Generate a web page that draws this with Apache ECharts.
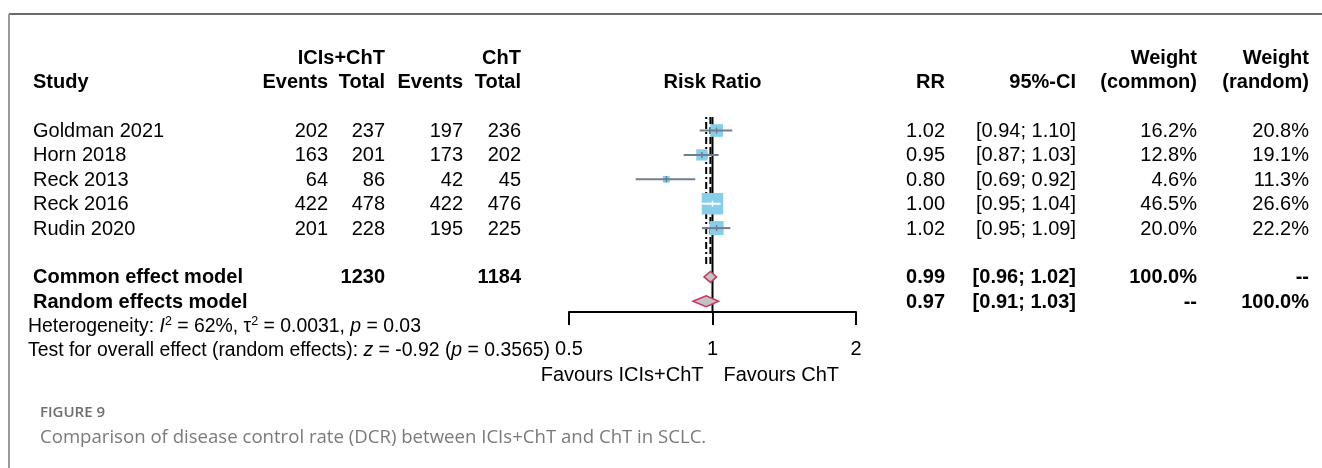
<!DOCTYPE html>
<html>
<head>
<meta charset="utf-8">
<script src="https://cdn.jsdelivr.net/npm/echarts@6/dist/echarts.min.js"></script>
<style>
html,body{margin:0;padding:0;background:#fff;}
#chart{width:1322px;height:468px;}
</style>
</head>
<body>
<div id="chart"></div>
<script>
// ---------------- data ----------------
const studies = ['Goldman 2021', 'Horn 2018', 'Reck 2013', 'Reck 2016', 'Rudin 2020'];
const eventsExp = [202, 163, 64, 422, 201];
const totalExp = [237, 201, 86, 478, 228];
const eventsCtl = [197, 173, 42, 422, 195];
const totalCtl = [236, 202, 45, 476, 225];
const rr = [1.02, 0.95, 0.80, 1.00, 1.02];
const ciLow = [0.94, 0.87, 0.69, 0.95, 0.95];
const ciHigh = [1.10, 1.03, 0.92, 1.04, 1.09];
const weightCommon = [16.2, 12.8, 4.6, 46.5, 20.0];
const weightRandom = [20.8, 19.1, 11.3, 26.6, 22.2];

const pooledLabels = ['Common effect model', 'Random effects model'];
const pooledTotalExp = [1230, null];
const pooledTotalCtl = [1184, null];
const pooledRR = [0.99, 0.97];
const pooledLow = [0.96, 0.91];
const pooledHigh = [1.02, 1.03];
const pooledWCommon = [100.0, null];
const pooledWRandom = [null, 100.0];
const nullEffect = 1;

const xTicks = [0.5, 1, 2];
const heterogeneity = { I2: '62%', tau2: '0.0031', p: '0.03' };
const overallTest = { z: '-0.92', p: '0.3565' };
const labelLeft = 'Favours ICIs+ChT';
const labelRight = 'Favours ChT';
const caption1 = 'FIGURE 9';
const caption2 = 'Comparison of disease control rate (DCR) between ICIs+ChT and ChT in SCLC.';

// ---------------- layout ----------------
const FONT = '"Liberation Sans", Arial, sans-serif';
const FS = 20;
const FS_FOOT = 19.4;
const TEXT_DY = 1;
const ROW_Y0 = 130.5, ROW_H = 24.4;
const rowPx = r => ROW_Y0 + ROW_H * r;
const Y_MIN = -3.5, Y_MAX = 9.5;
const AXIS_ROW = 7.44;
const PLOT_LEFT = 569, PLOT_RIGHT = 856;
const COL = { study: 33, expEv: 328, expTot: 385, ctlEv: 463, ctlTot: 521, rr: 945, ci: 1076, wc: 1197, wr: 1309, foot: 28 };
const SQ_K = 3.15;
const pooledRowStart = studies.length + 1;

const chart = echarts.init(document.getElementById('chart'), null, { renderer: 'canvas' });

function txt(x, y, text, align, bold) {
  return {
    type: 'text',
    style: {
      x: x, y: y + TEXT_DY, text: text,
      fill: '#000',
      fontFamily: FONT, fontSize: FS, fontWeight: bold ? 'bold' : 'normal',
      align: align, verticalAlign: 'middle'
    }
  };
}
const fmtW = v => v == null ? '--' : v.toFixed(1) + '%';
const fmtCI = (a, b) => '[' + a.toFixed(2) + '; ' + b.toFixed(2) + ']';

const option = {
  backgroundColor: '#fff',
  animation: false,
  grid: [
    { left: PLOT_LEFT, width: PLOT_RIGHT - PLOT_LEFT, top: rowPx(Y_MIN), height: ROW_H * (Y_MAX - Y_MIN) },
    { left: PLOT_LEFT, width: PLOT_RIGHT - PLOT_LEFT, top: rowPx(AXIS_ROW) - 12, height: 12 }
  ],
  xAxis: [
    { gridIndex: 0, type: 'log', logBase: 2, min: xTicks[0], max: xTicks[xTicks.length - 1], show: false },
    {
      gridIndex: 1, type: 'log', logBase: 2, min: xTicks[0], max: xTicks[xTicks.length - 1],
      position: 'bottom',
      axisLine: { show: true, lineStyle: { color: '#000', width: 2 } },
      axisTick: { show: true, length: 13, lineStyle: { color: '#000', width: 2 } },
      minorTick: { show: false },
      splitLine: { show: false },
      axisLabel: { show: true, color: '#000', fontFamily: FONT, fontSize: FS, margin: 27,
        formatter: v => String(Math.round(v * 100) / 100) }
    }
  ],
  yAxis: [
    { gridIndex: 0, type: 'value', min: Y_MIN, max: Y_MAX, inverse: true, show: false },
    { gridIndex: 1, type: 'value', min: 0, max: 1, show: false }
  ],
  graphic: [
    { type: 'line', shape: { x1: 9, y1: 14, x2: 1322, y2: 14 }, style: { stroke: '#3a3a3a', lineWidth: 1.5 } },
    { type: 'line', shape: { x1: 9, y1: 14, x2: 9, y2: 468 }, style: { stroke: '#9a9a9a', lineWidth: 2 } },
    { type: 'text', style: { x: 40, y: 413, text: caption1, fill: '#6e6e6e', fontFamily: '"Open Sans", sans-serif', fontSize: 15, fontWeight: 600, verticalAlign: 'middle' } },
    { type: 'text', style: { x: 40, y: 438, text: caption2, fill: '#7a7a7a', fontFamily: '"Open Sans", sans-serif', fontSize: 18.6, verticalAlign: 'middle' } }
  ],
  series: [
    // reference lines: null effect (solid) and pooled estimates (dashed / dash-dot)
    {
      type: 'custom', xAxisIndex: 0, yAxisIndex: 0, silent: true,
      data: [[nullEffect, 0], [pooledRR[0], 1], [pooledRR[1], 2]],
      renderItem: function (params, api) {
        const x = api.value(0), kind = api.value(1);
        const top = api.coord([x, -0.55]);
        const bottomRow = kind === 0 ? AXIS_ROW : studies.length + 0.5;
        const bot = api.coord([x, bottomRow]);
        const dash = kind === 0 ? null : (kind === 1 ? [7, 3] : [2, 3, 7, 3]);
        return {
          type: 'line',
          shape: { x1: top[0], y1: top[1], x2: bot[0], y2: bot[1] },
          style: { stroke: '#000', lineWidth: 2, lineDash: dash }
        };
      }
    },
    // study squares and CIs
    {
      type: 'custom', xAxisIndex: 0, yAxisIndex: 0, silent: true,
      data: studies.map((s, i) => [rr[i], i, ciLow[i], ciHigh[i], weightCommon[i]]),
      renderItem: function (params, api) {
        const r = api.value(1);
        const c = api.coord([api.value(0), r]);
        const lo = api.coord([api.value(2), r]);
        const hi = api.coord([api.value(3), r]);
        const s = SQ_K * Math.sqrt(api.value(4));
        const inside = lo[0] >= c[0] - s / 2 - 0.5 && hi[0] <= c[0] + s / 2 + 0.5;
        const lc = inside ? '#ffffff' : '#6f7f8f';
        return {
          type: 'group',
          children: [
            { type: 'rect', shape: { x: c[0] - s / 2, y: c[1] - s / 2, width: s, height: s }, style: { fill: '#87CEEB' } },
            { type: 'line', shape: { x1: lo[0], y1: c[1], x2: hi[0], y2: c[1] }, style: { stroke: lc, lineWidth: 2 } },
            { type: 'line', shape: { x1: c[0], y1: c[1] - 3, x2: c[0], y2: c[1] + 3 }, style: { stroke: lc, lineWidth: 1.5 } }
          ]
        };
      }
    },
    // pooled diamonds
    {
      type: 'custom', xAxisIndex: 0, yAxisIndex: 0, silent: true,
      data: pooledRR.map((v, i) => [v, pooledRowStart + i, pooledLow[i], pooledHigh[i]]),
      renderItem: function (params, api) {
        const r = api.value(1);
        const c = api.coord([api.value(0), r]);
        const lo = api.coord([api.value(2), r]);
        const hi = api.coord([api.value(3), r]);
        const h = 5.5;
        return {
          type: 'polygon',
          shape: { points: [[lo[0], c[1]], [c[0], c[1] - h], [hi[0], c[1]], [c[0], c[1] + h]] },
          style: { fill: '#C3C3C3', stroke: '#C7375F', lineWidth: 1.5 }
        };
      }
    },
    // table text
    {
      type: 'custom', xAxisIndex: 0, yAxisIndex: 0, silent: true,
      data: [[nullEffect, 0]],
      renderItem: function (params, api) {
        const y = r => api.coord([nullEffect, r])[1];
        const xc = api.coord([nullEffect, 0])[0];
        const ch = [];
        // header
        ch.push(txt(COL.expTot, y(-3), 'ICIs+ChT', 'right', true));
        ch.push(txt(COL.ctlTot, y(-3), 'ChT', 'right', true));
        ch.push(txt(COL.wc, y(-3), 'Weight', 'right', true));
        ch.push(txt(COL.wr, y(-3), 'Weight', 'right', true));
        ch.push(txt(COL.study, y(-2), 'Study', 'left', true));
        ch.push(txt(COL.expEv, y(-2), 'Events', 'right', true));
        ch.push(txt(COL.expTot, y(-2), 'Total', 'right', true));
        ch.push(txt(COL.ctlEv, y(-2), 'Events', 'right', true));
        ch.push(txt(COL.ctlTot, y(-2), 'Total', 'right', true));
        ch.push(txt(xc, y(-2), 'Risk Ratio', 'center', true));
        ch.push(txt(COL.rr, y(-2), 'RR', 'right', true));
        ch.push(txt(COL.ci, y(-2), '95%-CI', 'right', true));
        ch.push(txt(COL.wc, y(-2), '(common)', 'right', true));
        ch.push(txt(COL.wr, y(-2), '(random)', 'right', true));
        // studies
        studies.forEach((s, i) => {
          const yy = y(i);
          ch.push(txt(COL.study, yy, s, 'left', false));
          ch.push(txt(COL.expEv, yy, String(eventsExp[i]), 'right', false));
          ch.push(txt(COL.expTot, yy, String(totalExp[i]), 'right', false));
          ch.push(txt(COL.ctlEv, yy, String(eventsCtl[i]), 'right', false));
          ch.push(txt(COL.ctlTot, yy, String(totalCtl[i]), 'right', false));
          ch.push(txt(COL.rr, yy, rr[i].toFixed(2), 'right', false));
          ch.push(txt(COL.ci, yy, fmtCI(ciLow[i], ciHigh[i]), 'right', false));
          ch.push(txt(COL.wc, yy, fmtW(weightCommon[i]), 'right', false));
          ch.push(txt(COL.wr, yy, fmtW(weightRandom[i]), 'right', false));
        });
        // pooled
        pooledLabels.forEach((lab, i) => {
          const yy = y(pooledRowStart + i);
          ch.push(txt(COL.study, yy, lab, 'left', true));
          if (pooledTotalExp[i] != null) ch.push(txt(COL.expTot, yy, String(pooledTotalExp[i]), 'right', true));
          if (pooledTotalCtl[i] != null) ch.push(txt(COL.ctlTot, yy, String(pooledTotalCtl[i]), 'right', true));
          ch.push(txt(COL.rr, yy, pooledRR[i].toFixed(2), 'right', true));
          ch.push(txt(COL.ci, yy, fmtCI(pooledLow[i], pooledHigh[i]), 'right', true));
          ch.push(txt(COL.wc, yy, fmtW(pooledWCommon[i]), 'right', true));
          ch.push(txt(COL.wr, yy, fmtW(pooledWRandom[i]), 'right', true));
        });
        // footer statistics
        const base = { fontFamily: FONT, fontSize: FS_FOOT, fill: '#000', lineHeight: 24 };
        const it = Object.assign({}, base, { fontStyle: 'italic' });
        const sup = { fontFamily: FONT, fontSize: 12.5, fill: '#000', lineHeight: 14, verticalAlign: 'top' };
        ch.push({
          type: 'text',
          style: {
            x: COL.foot, y: y(pooledRowStart + 2) + TEXT_DY, align: 'left', verticalAlign: 'middle',
            text: '{n|Heterogeneity: }{i|I}{s|2}{n| = ' + heterogeneity.I2 + ', τ}{s|2}{n| = ' + heterogeneity.tau2 + ', }{i|p}{n| = ' + heterogeneity.p + '}',
            rich: { n: base, i: it, s: sup }
          }
        });
        ch.push({
          type: 'text',
          style: {
            x: COL.foot, y: y(pooledRowStart + 3) + TEXT_DY, align: 'left', verticalAlign: 'middle',
            text: '{n|Test for overall effect (random effects): }{i|z}{n| = ' + overallTest.z + ' (}{i|p}{n| = ' + overallTest.p + ')}',
            rich: { n: base, i: it }
          }
        });
        // direction labels
        ch.push(txt(xc - 9, y(pooledRowStart + 4), labelLeft, 'right', false));
        ch.push(txt(xc + 11, y(pooledRowStart + 4), labelRight, 'left', false));
        return { type: 'group', children: ch };
      }
    }
  ]
};
chart.setOption(option);
</script>
</body>
</html>
